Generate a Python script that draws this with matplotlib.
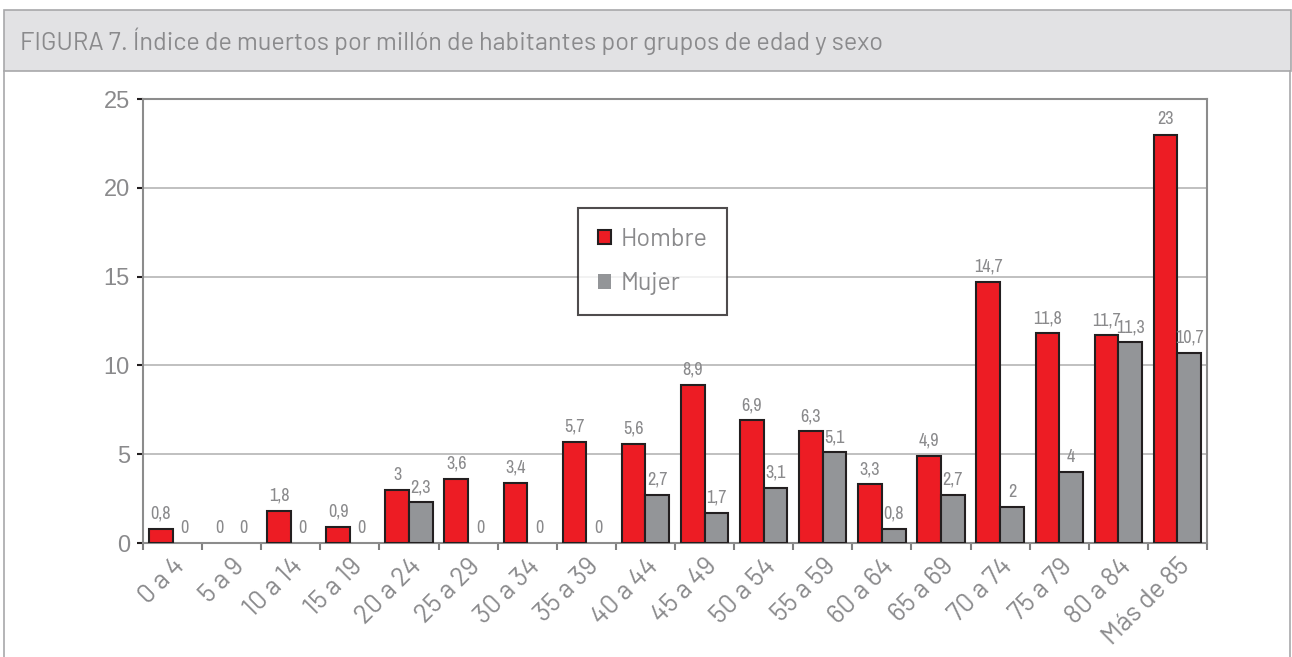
import numpy as np
import matplotlib.pyplot as plt
from matplotlib.patches import Rectangle
from matplotlib.lines import Line2D

groups = ["0 a 4", "5 a 9", "10 a 14", "15 a 19", "20 a 24", "25 a 29", "30 a 34",
          "35 a 39", "40 a 44", "45 a 49", "50 a 54", "55 a 59", "60 a 64", "65 a 69",
          "70 a 74", "75 a 79", "80 a 84", "Más de 85"]
hombre = [0.8, 0, 1.8, 0.9, 3, 3.6, 3.4, 5.7, 5.6, 8.9, 6.9, 6.3, 3.3, 4.9, 14.7, 11.8, 11.7, 23]
mujer = [0, 0, 0, 0, 2.3, 0, 0, 0, 2.7, 1.7, 3.1, 5.1, 0.8, 2.7, 2, 4, 11.3, 10.7]

red = "#ed1c24"
grey = "#939598"
edge = "#231f20"
txt = "#8a8a8c"

plt.rcParams['font.family'] = ['Barlow', 'DejaVu Sans']
narrow = ['Archivo Narrow', 'DejaVu Sans']
arial = ['Liberation Sans', 'DejaVu Sans']

fig = plt.figure(figsize=(12.92, 6.57), dpi=100)

# header band and frame
fig.patches.append(Rectangle((4 / 1292, 1 - 71 / 657), 1287 / 1292, 61 / 657,
                             transform=fig.transFigure, facecolor="#e2e2e4",
                             edgecolor="#a8a8aa", linewidth=1.2))
fig.lines.append(Line2D([4 / 1292, 4 / 1292], [0, 1 - 71 / 657], transform=fig.transFigure,
                        color="#a8a8aa", linewidth=1.2))
fig.lines.append(Line2D([1290 / 1292, 1290 / 1292], [0, 1 - 71 / 657], transform=fig.transFigure,
                        color="#a8a8aa", linewidth=1.2))
fig.text(20 / 1292, 1 - 41 / 657, "FIGURA 7. Índice de muertos por millón de habitantes por grupos de edad y sexo",
         fontsize=18.2, color=txt, va="center", ha="left")

ax = fig.add_axes([143 / 1292, 1 - 543 / 657, 1064 / 1292, 444 / 657])
x = np.arange(len(groups))
w = 0.4
lw_h = [1.5 if v > 0 else 0 for v in hombre]
lw_m = [1.5 if v > 0 else 0 for v in mujer]
ax.bar(x - w / 2, hombre, w, color=red, edgecolor=edge, linewidth=lw_h, label="Hombre", zorder=3)
ax.bar(x + w / 2, mujer, w, color=grey, edgecolor=edge, linewidth=lw_m, label="Mujer", zorder=3)

def fmt(v):
    return ("%g" % v).replace(".", ",")

for i in range(len(groups)):
    ax.text(x[i] - w / 2, hombre[i] + 0.4, fmt(hombre[i]), ha="center", va="bottom",
            fontsize=13, color=txt, family=narrow)
    ax.text(x[i] + w / 2, mujer[i] + 0.4, fmt(mujer[i]), ha="center", va="bottom",
            fontsize=13, color=txt, family=narrow)

ax.set_xlim(-0.5, len(groups) - 0.5)
ax.set_ylim(0, 25)
ax.set_yticks([0, 5, 10, 15, 20, 25])
ax.yaxis.grid(True, color="#b5b5b5", linewidth=1.2, zorder=0)
ax.set_axisbelow(True)

ax.set_xticks(np.arange(len(groups) + 1) - 0.5, minor=False)
ax.set_xticklabels([])
ax.set_xticks(x, minor=True)
ax.set_xticklabels(groups, minor=True, rotation=45, ha="right", rotation_mode="anchor",
                   fontsize=19, color=txt)
ax.tick_params(axis="x", which="minor", length=0, pad=8)
ax.tick_params(axis="x", which="major", length=5, width=1.5, color="#808080", direction="out")
ax.tick_params(axis="y", length=4.5, width=1.5, color="#231f20", labelsize=17,
               labelcolor=txt, pad=5)
for t in ax.get_yticklabels():
    t.set_family(arial)

for s in ["top", "right", "left", "bottom"]:
    ax.spines[s].set_color("#8c8c8c")
    ax.spines[s].set_linewidth(1.5)

leg = ax.legend(loc="upper left", bbox_to_anchor=((578 - 143) / 1064, (543 - 208) / 444),
                fontsize=18, frameon=True, fancybox=False, handlelength=0.5, handleheight=0.5,
                labelspacing=0.85, borderpad=0.8, handletextpad=0.4, borderaxespad=0)
leg.get_frame().set_edgecolor("#231f20")
leg.get_frame().set_linewidth(1.5)
for t in leg.get_texts():
    t.set_color(txt)

fig.savefig("out.png", dpi=100)
